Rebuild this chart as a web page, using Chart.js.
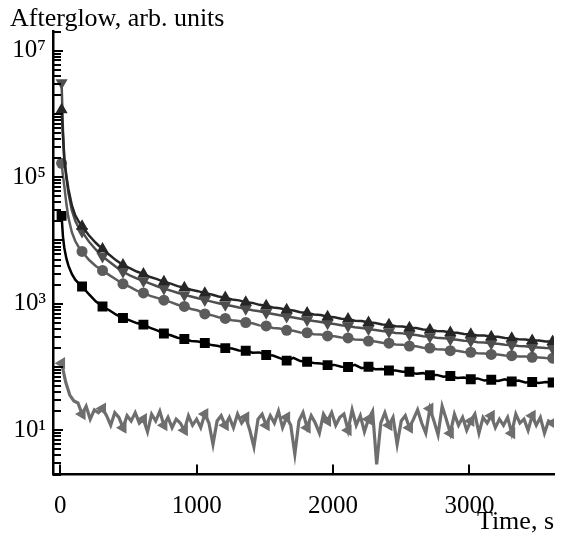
<!DOCTYPE html>
<html><head><meta charset="utf-8">
<script src="https://cdn.jsdelivr.net/npm/chart.js@4.4.1/dist/chart.umd.min.js"></script>
<style>html,body{margin:0;padding:0;background:#fff}#wrap{width:561px;height:535px}</style>
</head><body><div id="wrap"><canvas id="c" width="561" height="535"></canvas></div>
<script>
// sample times (s) for the four upper curves
const tMain = [10,20,30,45,60,85,110,135,
 160,210,260,310,360,410,460,510,560,610,660,710,760,810,860,910,960,1010,1060,1110,1160,1210,1260,1310,1360,1410,1460,1510,1560,1610,1660,1710,1760,1810,1860,1910,1960,2010,2060,2110,2160,2210,2260,2310,2360,2410,2460,2510,2560,2610,2660,2710,2760,2810,2860,2910,2960,3010,3060,3110,3160,3210,3260,3310,3360,3410,3460,3510,3560,3610];

const upTriangle = [1160000,450000,190000,105000,65000,36000,25000,20000,
 16800,12100,9200,7300,5950,4850,4100,3650,3230,2960,2640,2450,2220,2080,1900,1790,1660,1580,1470,1400,1300,1250,1170,1130,1060,1030,960,930,870,850,800,780,735,715,675,662,625,612,580,572,540,532,505,496,470,466,440,436,416,412,392,389,370,368,350,349,333,330,316,314,301,300,287,286,275,273,263,262,253,252];

const downTriangle = [3100000,550000,195000,98000,56000,30000,20500,16000,
 13800,9600,7200,5600,4600,3800,3200,2800,2520,2290,2080,1890,1740,1610,1490,1380,1300,1220,1150,1080,1020,965,920,870,835,790,760,720,690,660,630,605,580,555,532,515,492,478,458,445,425,415,397,386,372,362,346,340,325,320,306,302,289,286,274,270,260,257,247,244,236,233,225,222,215,213,206,204,199,198];

const circles = [166000,105000,72000,38000,23000,13500,9800,7900,
 6700,4950,3950,3350,2830,2420,2060,1840,1610,1480,1330,1240,1140,1060,965,905,825,780,690,660,610,585,550,535,505,490,455,445,415,405,380,373,352,348,330,327,310,307,292,288,273,270,257,253,241,238,227,224,214,212,202,199,191,189,181,180,172,171,165,164,158,157,152,151,147,146,142,141,139,138];

const squares = [24500,11500,7600,5200,4000,2950,2400,2100,
 1870,1420,1090,905,790,670,595,545,495,468,415,380,338,318,290,277,258,252,240,222,214,199,196,183,181,168,170,155,152,138,126,140,124,121,116,114,107,108,101,100,108,96,101,92,93,88,88,84,84,78,80,74,75,70,72,67,68,64,66,61,63,60,64,59,61,57,58,56,58,57];

// sample times (s) for the noisy lowest curve
const tNoise = [10,40,70,100,130,160,190,220,250,280,310,340,370,400,430,460,490,520,550,580,610,640,670,700,730,760,790,820,850,880,910,940,970,1000,1030,1060,1090,1120,1150,1180,1210,1240,1270,1300,1330,1360,1390,1420,1450,1480,1510,1540,1570,1600,1630,1660,1690,1720,1750,1780,1810,1840,1870,1900,1930,1960,1990,2020,2050,2080,2110,2140,2170,2200,2230,2260,2290,2320,2350,2380,2410,2440,2470,2500,2530,2560,2590,2620,2650,2680,2710,2740,2770,2800,2830,2860,2890,2920,2950,2980,3010,3040,3070,3100,3130,3160,3190,3220,3250,3280,3310,3340,3370,3400,3430,3460,3490,3520,3550,3580,3610];

const leftTriangle = [115,58,36,29,27,18,24,15,21,19,22,17,12,19,16,11,17,14,19,13,15,9.5,18,14,20,12,16,11,15,13,10,17,12,15,11,18,13,6,14,17,12,16,11,18,13,16,10,5.5,15,18,12,17,13,20,11,16,12,4.2,14,19,11,17,13,9,18,14,19,12,16,18,10,21,12,17,9.5,15,20,2.9,13,19,12,16,6,14,17,11,15,21,13,9,22,14,8.5,24,15,9,18,12,16,10,14,18,9,16,13,17,11,15,12,16,9,18,13,15,10,17,12,16,9,14,13];

const yTickValues = [10, 1000, 100000, 10000000];
const yTickLabels = ['10\u00B9', '10\u00B3', '10\u2075', '10\u2077'];
const xTickValues = [0, 1000, 2000, 3000];
const xTickLabels = ['0', '1000', '2000', '3000'];
const yTitle = 'Afterglow, arb. units';
const xTitle = 'Time, s';

const SERIF = "'Liberation Serif', 'Times New Roman', 'DejaVu Serif', serif";
const pts = (ts, vs) => ts.map((t, i) => ({x: t, y: vs[i]}));
const markerEvery = (r) => (ctx) => {
  const p = ctx.raw; if (!p) return 0;
  return ((p.x - 10) % 150 === 0) ? r : 0;
};

function ds(label, ts, vs, color, style, rot, r, bw, order) {
  return {
    label, data: pts(ts, vs), borderColor: color, backgroundColor: color,
    borderWidth: bw, pointStyle: style, rotation: rot,
    pointRadius: markerEvery(r), pointBorderWidth: 0, pointHoverRadius: 0,
    tension: 0, fill: false, order
  };
}

const decor = {
  id: 'decor',
  afterDraw(chart) {
    const c = chart.ctx, xs = chart.scales.x, ys = chart.scales.y, a = chart.chartArea;
    c.save();
    c.strokeStyle = '#000'; c.lineWidth = 2;
    // y tick marks (inside)
    for (let k = 0; k <= 7; k++) {
      for (let m = 1; m <= 9; m++) {
        const v = m * Math.pow(10, k);
        if (v < 2 || v > 2e7) continue;
        const y = Math.round(ys.getPixelForValue(v));
        const len = (m === 1) ? 10 : 8;
        c.beginPath(); c.moveTo(a.left, y); c.lineTo(a.left + len, y); c.stroke();
      }
    }
    // x tick marks (inside)
    xTickValues.forEach(v => {
      const x = Math.round(xs.getPixelForValue(v));
      c.beginPath(); c.moveTo(x, a.bottom); c.lineTo(x, a.bottom - 10); c.stroke();
    });
    // axis title at top-left
    c.fillStyle = '#000';
    c.font = '26px ' + SERIF;
    c.textAlign = 'left'; c.textBaseline = 'alphabetic';
    c.fillText(yTitle, 10, 26);
    c.restore();
  }
};

new Chart(document.getElementById('c'), {
  type: 'line',
  data: {
    datasets: [
      ds('up', tMain, upTriangle, '#262626', 'triangle', 0, 7, 2.5, 0),
      ds('down', tMain, downTriangle, '#4e4e4e', 'triangle', 180, 7, 2.5, 1),
      ds('circle', tMain, circles, '#5c5c5c', 'circle', 0, 5.5, 2.5, 2),
      ds('square', tMain, squares, '#000000', 'rect', 0, 7, 2.5, 3),
      ds('left', tNoise, leftTriangle, '#6e6e6e', 'triangle', -90, 7, 3.2, 4)
    ]
  },
  options: {
    responsive: false, animation: false, devicePixelRatio: 1,
    layout: {padding: {top: 31.6, right: 0, left: 0, bottom: 0}},
    plugins: {legend: {display: false}, tooltip: {enabled: false}, title: {display: false}},
    scales: {
      x: {
        type: 'linear', min: -53, max: 3620,
        grid: {display: false, drawTicks: false},
        border: {display: true, color: '#000', width: 2.5},
        afterBuildTicks: (s) => { s.ticks = xTickValues.map(v => ({value: v})); },
        afterFit: (s) => { s.height = 60.5; },
        ticks: {
          color: '#000', font: {family: SERIF, size: 25}, padding: 17, maxRotation: 0,
          callback: (v) => xTickLabels[xTickValues.indexOf(v)]
        },
        title: {display: true, text: xTitle, align: 'end', color: '#000',
          font: {family: SERIF, size: 26, lineHeight: 1}, padding: 0}
      },
      y: {
        type: 'logarithmic', min: 2, max: 2e7,
        grid: {display: false, drawTicks: false},
        border: {display: true, color: '#000', width: 2.5},
        afterBuildTicks: (s) => { s.ticks = yTickValues.map(v => ({value: v})); },
        afterFit: (s) => { s.width = 53; },
        ticks: {
          color: '#000', font: {family: SERIF, size: 25}, padding: 7,
          callback: (v) => { const i = yTickValues.indexOf(v); return i >= 0 ? yTickLabels[i] : ''; }
        }
      }
    }
  },
  plugins: [decor]
});
</script>
</body></html>
